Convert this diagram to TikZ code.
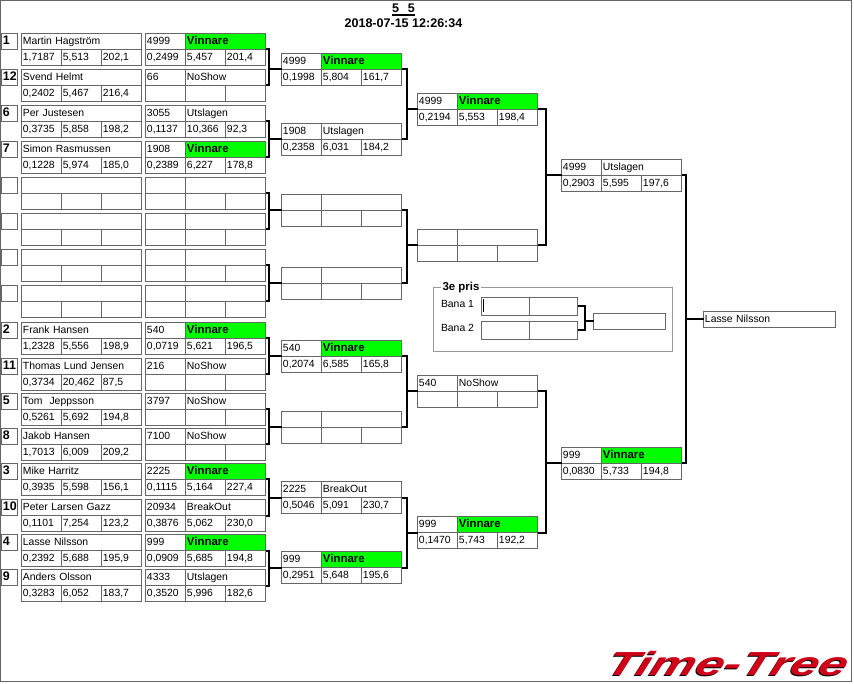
\documentclass[tikz,border=0pt]{standalone}
\usepackage{fontspec}
\setmainfont{Liberation Sans}
\definecolor{linegray}{HTML}{666666}
\definecolor{framegray}{HTML}{999999}
\definecolor{wingreen}{HTML}{00FF00}
\definecolor{logored}{HTML}{D00018}
\tikzset{
  cell/.style={draw=linegray,line width=.75pt,anchor=north west,outer sep=0pt,inner xsep=1.1pt,
    inner ysep=0pt,minimum height=12pt,text height=6.4pt,text depth=1.4pt,align=left,
    font=\fontsize{7.8}{9}\selectfont},
  numcell/.style={cell,text width=27.8pt},
  statcell/.style={cell,text width=57.8pt},
  namecell/.style={cell,text width=87.8pt},
  wincell/.style={statcell,fill=wingreen,font=\fontsize{8.6}{9}\selectfont\bfseries},
  seedcell/.style={cell,text width=9.8pt,font=\fontsize{9.3}{10}\selectfont\bfseries},
  smallcell/.style={cell,text width=33.8pt,minimum height=13.5pt},
  link/.style={line width=1.5pt,black},
  plain/.style={inner sep=0pt,font=\fontsize{7.8}{9}\selectfont},
  headline/.style={anchor=base,inner sep=0pt,font=\fontsize{9.4}{10}\selectfont\bfseries},
  logotext/.style={inner sep=0pt,font=\fontsize{25}{25}\selectfont\bfseries\itshape,xscale=1.52,xslant=.22,transform shape}
}
% one result card: [status style]{tag}{x}{y}{id}{status}{a}{b}{c}
\newcommand{\card}[9][statcell]{
  \node[numcell] (#2id) at (#3,#4) {#5};
  \node[#1] (#2st) at (#3+40,#4) {#6};
  \node[numcell] (#2a) at (#3,#4+16) {#7};
  \node[numcell] (#2b) at (#3+40,#4+16) {#8};
  \node[numcell] (#2c) at (#3+80,#4+16) {#9};
}
% seed box and player: {tag}{y}{seed}{name}{a}{b}{c}
\newcommand{\player}[7]{
  \node[seedcell] (#1sd) at (1.5,#2) {#3};
  \node[namecell] (#1nm) at (21.5,#2) {#4};
  \node[numcell] (#1a) at (21.5,#2+16) {#5};
  \node[numcell] (#1b) at (61.5,#2+16) {#6};
  \node[numcell] (#1c) at (101.5,#2+16) {#7};
}
% bracket: {upper}{lower}{target}{gap}
\newcommand{\bracket}[4]{
  \path (#1) ++(#4,0) coordinate (elbow);
  \draw[link] (#1) -- (elbow) -- (elbow |- #2) -- (#2);
  \draw[link] (#3) -- (#3 -| elbow);
}
\begin{document}
\begin{tikzpicture}[x=.75pt,y=-.75pt,shift={(0,.5)}]
  \useasboundingbox (0,-.5) rectangle (854,683.5);
  \draw[linegray,line width=.75pt] (.5,0) rectangle (851.5,681);

  \node[headline] (title) at (403.5,12.5) {5\hspace{6.7pt}5};
  \draw[black,line width=1pt] (392,14.5) -- (415,14.5);
  \node[headline] (stamp) at (403.5,27.5) {2018-07-15 12:26:34};

  \player{p1}{33}{1}{Martin Hagström}{1,7187}{5,513}{202,1}
  \player{p12}{69}{12}{Svend Helmt}{0,2402}{5,467}{216,4}
  \player{p6}{105}{6}{Per Justesen}{0,3735}{5,858}{198,2}
  \player{p7}{141}{7}{Simon Rasmussen}{0,1228}{5,974}{185,0}
  \player{p2}{322}{2}{Frank Hansen}{1,2328}{5,556}{198,9}
  \player{p11}{358}{11}{Thomas Lund Jensen}{0,3734}{20,462}{87,5}
  \player{p5}{393}{5}{Tom\ \ Jeppsson}{0,5261}{5,692}{194,8}
  \player{p8}{428}{8}{Jakob Hansen}{1,7013}{6,009}{209,2}
  \player{p3}{463}{3}{Mike Harritz}{0,3935}{5,598}{156,1}
  \player{p10}{499}{10}{Peter Larsen Gazz}{0,1101}{7,254}{123,2}
  \player{p4}{534}{4}{Lasse Nilsson}{0,2392}{5,688}{195,9}
  \player{p9}{569}{9}{Anders Olsson}{0,3283}{6,052}{183,7}

  \card[wincell]{m1}{145.5}{33}{4999}{Vinnare}{0,2499}{5,457}{201,4}
  \card{m12}{145.5}{69}{66}{NoShow}{}{}{}
  \card{m6}{145.5}{105}{3055}{Utslagen}{0,1137}{10,366}{92,3}
  \card[wincell]{m7}{145.5}{141}{1908}{Vinnare}{0,2389}{6,227}{178,8}
  \card[wincell]{m2}{145.5}{322}{540}{Vinnare}{0,0719}{5,621}{196,5}
  \card{m11}{145.5}{358}{216}{NoShow}{}{}{}
  \card{m5}{145.5}{393}{3797}{NoShow}{}{}{}
  \card{m8}{145.5}{428}{7100}{NoShow}{}{}{}
  \card[wincell]{m3}{145.5}{463}{2225}{Vinnare}{0,1115}{5,164}{227,4}
  \card{m10}{145.5}{499}{20934}{BreakOut}{0,3876}{5,062}{230,0}
  \card[wincell]{m4}{145.5}{534}{999}{Vinnare}{0,0909}{5,685}{194,8}
  \card{m9}{145.5}{569}{4333}{Utslagen}{0,3520}{5,996}{182,6}

  \foreach \y [count=\n] in {177,213,249,285}
  {
    \player{pe\n}{\y}{}{}{}{}{}
    \card{me\n}{145.5}{\y}{}{}{}{}{}
  }

  \card[wincell]{q1}{281.5}{53}{4999}{Vinnare}{0,1998}{5,804}{161,7}
  \card{q2}{281.5}{123}{1908}{Utslagen}{0,2358}{6,031}{184,2}
  \card{q3}{281.5}{194}{}{}{}{}{}
  \card{q4}{281.5}{267}{}{}{}{}{}
  \card[wincell]{q5}{281.5}{340}{540}{Vinnare}{0,2074}{6,585}{165,8}
  \card{q6}{281.5}{411}{}{}{}{}{}
  \card{q7}{281.5}{481}{2225}{BreakOut}{0,5046}{5,091}{230,7}
  \card[wincell]{q8}{281.5}{551}{999}{Vinnare}{0,2951}{5,648}{195,6}

  \card[wincell]{s1}{417.5}{93}{4999}{Vinnare}{0,2194}{5,553}{198,4}
  \card{s2}{417.5}{229}{}{}{}{}{}
  \card{s3}{417.5}{375}{540}{NoShow}{}{}{}
  \card[wincell]{s4}{417.5}{516}{999}{Vinnare}{0,1470}{5,743}{192,2}

  \card{f1}{561.5}{159}{4999}{Utslagen}{0,2903}{5,595}{197,6}
  \card[wincell]{f2}{561.5}{447}{999}{Vinnare}{0,0830}{5,733}{194,8}

  \node[cell,text width=96.8pt] (champ) at (703.5,311) {Lasse Nilsson};

  \bracket{m1st.south east}{m12st.south east}{q1id.south west}{3}
  \bracket{m6st.south east}{m7st.south east}{q2id.south west}{3}
  \bracket{me1st.south east}{me2st.south east}{q3id.south west}{3}
  \bracket{me3st.south east}{me4st.south east}{q4id.south west}{3}
  \bracket{m2st.south east}{m11st.south east}{q5id.south west}{3}
  \bracket{m5st.south east}{m8st.south east}{q6id.south west}{3}
  \bracket{m3st.south east}{m10st.south east}{q7id.south west}{3}
  \bracket{m4st.south east}{m9st.south east}{q8id.south west}{3}

  \bracket{q1st.south east}{q2st.south east}{s1id.south west}{5}
  \bracket{q3st.south east}{q4st.south east}{s2id.south west}{5}
  \bracket{q5st.south east}{q6st.south east}{s3id.south west}{5}
  \bracket{q7st.south east}{q8st.south east}{s4id.south west}{5}

  \bracket{s1st.south east}{s2st.south east}{f1id.south west}{8}
  \bracket{s3st.south east}{s4st.south east}{f2id.south west}{8}
  \bracket{f1st.south east}{f2st.south east}{champ.west}{4}

  % 3e pris
  \draw[framegray,line width=.75pt] (433.5,287) rectangle (672.5,351);
  \node[fill=white,inner xsep=1.5pt,inner ysep=0pt,font=\fontsize{8.6}{9}\selectfont\bfseries] (third) at (461,287.5) {3e pris};
  \node[plain] (bana1) at (457.5,303.5) {Bana 1};
  \node[plain] (bana2) at (457.5,327.5) {Bana 2};
  \node[smallcell] (b1l) at (481.5,297) {};
  \node[smallcell] (b1r) at (529.5,297) {};
  \node[smallcell] (b2l) at (481.5,321) {};
  \node[smallcell] (b2r) at (529.5,321) {};
  \node[cell,text width=51.8pt] (b3) at (593.5,313) {};
  \draw[black,line width=.75pt] (483.5,299) -- (483.5,312);
  \bracket{b1r.east}{b2r.east}{b3.west}{7}

  \node[logotext,black] (logoshade) at (727,664) {Time-Tree};
  \node[logotext,logored] (logo) at (728,663) {Time-Tree};
\end{tikzpicture}
\end{document}
